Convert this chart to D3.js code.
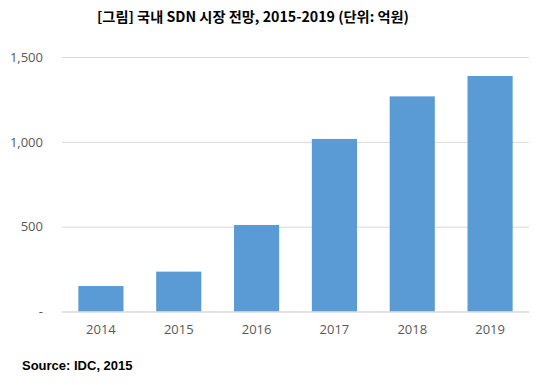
<!DOCTYPE html>
<html><head><meta charset="utf-8">
<script src="https://cdn.jsdelivr.net/npm/d3@7"></script>
<style>body{margin:0;background:#fff}svg{display:block}</style>
</head><body>
<svg id="c" width="549" height="385"></svg>
<script>
const categories = ["2014","2015","2016","2017","2018","2019"];
const values = [150, 235, 510, 1017, 1268, 1388];
const yTicks = [0, 500, 1000, 1500];
const title = "[그림] 국내 SDN 시장 전망, 2015-2019 (단위: 억원)";
const source = "Source: IDC, 2015";

(function () {
const svg = d3.select("#c");
const mLeft = 62, mRight = 529, mTop = 57, mBottom = 311.5;
const x = d3.scaleBand().domain(categories).range([mLeft, mRight]).paddingInner(0.42).paddingOuter(0.21);
const y = d3.scaleLinear().domain([0, 1500]).range([mBottom, mTop]);

svg.append("text").attr("x", 253).attr("y", 22).attr("text-anchor", "middle")
  .attr("font-family", "'Noto Sans CJK KR', sans-serif").attr("font-weight", "bold")
  .attr("font-size", 14).attr("textLength", 312).attr("lengthAdjust", "spacingAndGlyphs")
  .attr("fill", "#000").text(title);

const fmt = d => d === 0 ? "-" : d3.format(",")(d);
const yAxis = d3.axisLeft(y).tickValues(yTicks).tickSize(-(mRight - mLeft)).tickFormat(fmt).tickPadding(19);
const gy = svg.append("g").attr("transform", `translate(${mLeft},0)`).call(yAxis);
gy.select(".domain").remove();
gy.selectAll(".tick line").attr("stroke", "#d9d9d9").attr("stroke-width", 1);
gy.selectAll(".tick text").attr("fill", "#595959").attr("font-size", 13)
  .attr("font-family", "'Open Sans', 'Noto Sans', sans-serif");

svg.append("g").selectAll("rect").data(values).join("rect")
  .attr("x", (d, i) => x(categories[i])).attr("width", x.bandwidth())
  .attr("y", d => y(d)).attr("height", d => y(0) - y(d))
  .attr("fill", "#5b9bd5");

const xAxis = d3.axisBottom(x).tickSize(0).tickPadding(13);
const gx = svg.append("g").attr("transform", `translate(0,${mBottom})`).call(xAxis);
gx.select(".domain").attr("stroke", "#d9d9d9");
gx.selectAll(".tick text").attr("fill", "#595959").attr("font-size", 13)
  .attr("font-family", "'Open Sans', 'Noto Sans', sans-serif");

svg.append("text").attr("x", 22).attr("y", 370)
  .attr("font-family", "'Liberation Sans', Arial, sans-serif").attr("font-weight", "bold")
  .attr("font-size", 13).attr("fill", "#000").text(source);
})();
</script>
</body></html>
